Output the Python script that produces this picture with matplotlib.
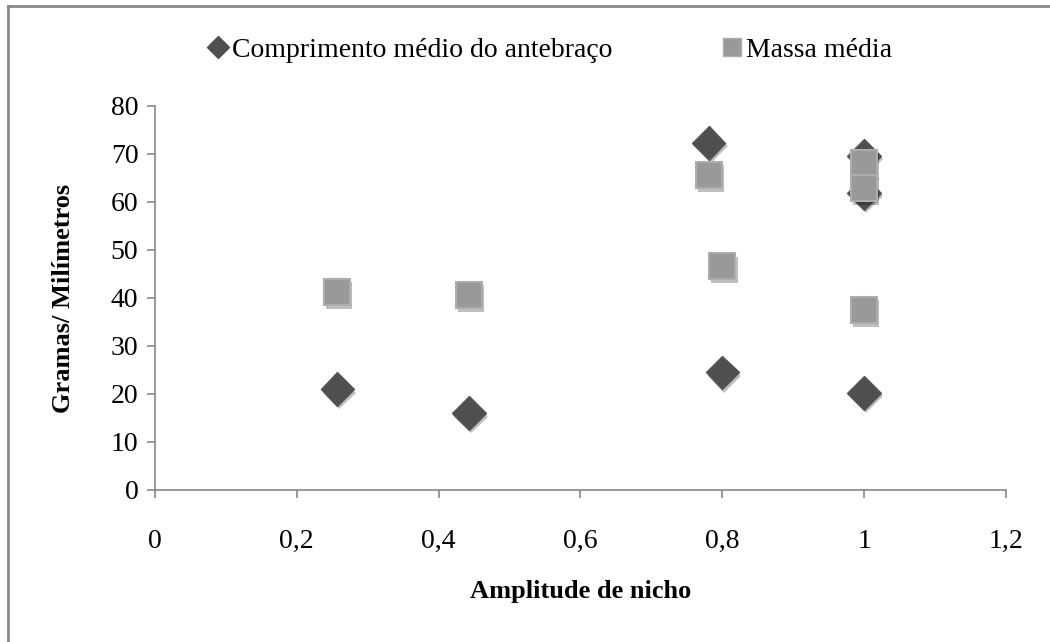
import matplotlib.pyplot as plt
import matplotlib.patheffects as pe
from matplotlib.lines import Line2D

# amplitude de nicho (x) for each species
amplitude = [0.257, 0.443, 0.781, 0.80, 1.0, 1.0, 1.0]
antebraco = [21.0, 16.0, 72.3, 24.5, 20.2, 69.6, 61.9]
massa = [41.2, 40.6, 65.6, 46.6, 37.5, 68.1, 62.9]

x_ticks = [0, 0.2, 0.4, 0.6, 0.8, 1.0, 1.2]
x_tick_labels = ['0', '0,2', '0,4', '0,6', '0,8', '1', '1,2']
y_ticks = [0, 10, 20, 30, 40, 50, 60, 70, 80]

plt.rcParams['font.family'] = ['Liberation Serif', 'DejaVu Serif']

fig = plt.figure(figsize=(10.5, 6.42), dpi=100)
ax = fig.add_axes([0.1476, 0.2368, 0.958 - 0.1476, 0.835 - 0.2368])

shadow = [pe.SimplePatchShadow(offset=(1.5, -2.5), alpha=0.25, shadow_rgbFace='black'), pe.Normal()]

ax.plot(amplitude, antebraco, linestyle='none', marker='D', markersize=17,
        color='#4f4f4f', markeredgecolor='#555555', path_effects=shadow, zorder=3)
ax.plot(amplitude, massa, linestyle='none', marker='s', markersize=19,
        color='#999999', markeredgecolor='#adadad', markeredgewidth=1.5,
        path_effects=shadow, zorder=4)

ax.set_xlim(0, 1.2)
ax.set_ylim(0, 80)
ax.set_xticks(x_ticks)
ax.set_xticklabels(x_tick_labels)
ax.set_yticks(y_ticks)

for side in ['top', 'right']:
    ax.spines[side].set_visible(False)
for side in ['left', 'bottom']:
    ax.spines[side].set_color('#888888')
    ax.spines[side].set_linewidth(1.2)
ax.tick_params(axis='both', direction='out', length=6, width=1.2, color='#888888',
               labelsize=20, labelcolor='black', pad=6)
ax.tick_params(axis='x', pad=22)

ax.set_xlabel('Amplitude de nicho', fontsize=19, fontweight='bold', labelpad=19)
ax.set_ylabel('Gramas/ Milímetros', fontsize=19, fontweight='bold', labelpad=26)

handles = [
    Line2D([], [], linestyle='none', marker='D', markersize=11, color='#4f4f4f'),
    Line2D([], [], linestyle='none', marker='s', markersize=13, color='#999999',
           markeredgecolor='#adadad'),
]
fig.legend(handles, ['Comprimento médio do antebraço', 'Massa média'],
           loc='center', bbox_to_anchor=(0.522, 0.922), ncol=2, frameon=False,
           fontsize=20, handletextpad=0.0, columnspacing=3.8, handlelength=1.0)

# chart frame (left and top edges only visible)
fig.add_artist(Line2D([8 / 1050, 8 / 1050], [0, 1 - 6 / 642], transform=fig.transFigure,
                      color='#888888', linewidth=2))
fig.add_artist(Line2D([8 / 1050, 1], [1 - 6 / 642, 1 - 6 / 642], transform=fig.transFigure,
                      color='#888888', linewidth=2))

fig.savefig('out.png', dpi=100)
